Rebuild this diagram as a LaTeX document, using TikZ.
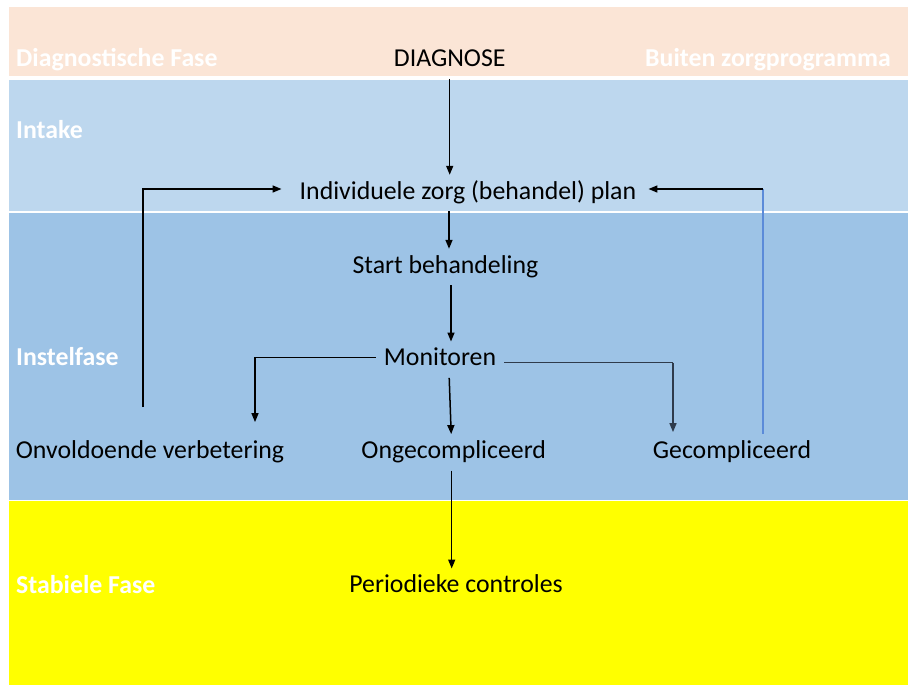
\documentclass[tikz,border=0pt]{standalone}
\usepackage{fontspec}
\setmainfont{Carlito}
\usetikzlibrary{arrows.meta}
\definecolor{peach}{HTML}{FBE5D6}
\definecolor{intakeblue}{HTML}{BDD7EE}
\definecolor{instelblue}{HTML}{9DC3E6}
\definecolor{stabyellow}{HTML}{FFFF00}
\definecolor{linkblue}{HTML}{5B8BD9}
\definecolor{darkline}{HTML}{2F3B4C}
\tikzset{
  stepnode/.style={inner xsep=8pt, inner ysep=6pt, text height=18pt, text depth=6pt,
    font=\fontsize{25.8}{30}\selectfont, text=black, anchor=base},
  phase/.style={inner sep=0pt, font=\fontsize{25.8}{30}\selectfont\bfseries, text=white},
  arr/.style={draw=black, line width=1.5pt, -{Triangle[length=9pt,width=7pt]}},
  plain/.style={draw=black, line width=1.5pt},
}
\begin{document}
\begin{tikzpicture}[x=1pt, y=-1pt]
  \useasboundingbox (0,0) rectangle (908,686);
  \fill[white] (0,0) rectangle (908,686);
  % phase bands
  \fill[peach]       (9,7)   rectangle (908,76);
  \fill[intakeblue]  (9,80)  rectangle (908,211);
  \fill[instelblue]  (9,213) rectangle (908,500);
  \fill[stabyellow]  (9,501) rectangle (908,685);

  % phase labels
  \node[phase, anchor=base west] (lDiag)  at (16,66.7)  {Diagnostische Fase};
  \node[phase, anchor=base east] (lBuiten) at (891,66.7) {Buiten zorgprogramma};
  \node[phase, anchor=base west] (lIntake) at (16,138)  {Intake};
  \node[phase, anchor=base west] (lInstel) at (16,365)  {Instelfase};
  \node[phase, anchor=base west] (lStab)   at (16,593)  {Stabiele Fase};

  % steps
  \node[stepnode] (diag)  at (449.7,66.7) {DIAGNOSE};
  \node[stepnode] (plan)  at (468,199)    {Individuele zorg (behandel) plan};
  \node[stepnode] (start) at (445.5,273)  {Start behandeling};
  \node[stepnode] (mon)   at (440,365.7)  {Monitoren};
  \node[stepnode] (onv)   at (150,458.3)  {Onvoldoende verbetering};
  \node[stepnode] (ong)   at (453.7,458.3) {Ongecompliceerd};
  \node[stepnode] (gec)   at (732,458.3)  {Gecompliceerd};
  \node[stepnode] (per)   at (456,592.7)  {Periodieke controles};

  % attachment points beside the texts
  \coordinate (monR)  at ([yshift=-3pt]mon.east);
  \coordinate (gecIn) at ([xshift=-59pt,yshift=2pt]gec.north);
  \coordinate (gecUp) at ([xshift=31pt]gec.north);
  \coordinate (planR) at ([xshift=4pt,yshift=4pt]plan.east);
  \coordinate (planL) at ([xshift=-10pt,yshift=4pt]plan.west);
  \coordinate (onvUp) at ([xshift=-7pt,yshift=27pt]onv.north);

  % main flow
  \draw[arr] (diag.south) -- (diag.south |- plan.north);
  \draw[arr] ([xshift=-19pt]plan.south) -- ([xshift=-19pt]plan.south |- start.north);
  \draw[arr] ([xshift=5.5pt]start.south) -- ([xshift=5.5pt]start.south |- mon.north);

  % outcomes of monitoring
  \draw[arr] ([yshift=2pt]mon.west) -| ([xshift=105pt,yshift=12pt]onv.north);
  \draw[arr] ([xshift=-4.5pt]ong.north |- mon.south) -- ([xshift=-2.5pt]ong.north);
  \draw[plain, draw=darkline] (monR) -- (gecIn |- monR);
  \draw[arr, draw=darkline] (gecIn |- monR) -- (gecIn);
  \draw[arr] ([xshift=-2pt]ong.south) -- ([xshift=-2pt]ong.south |- per.north);

  % feedback loops to the care plan
  \draw[arr] (onvUp) |- (planL);
  \draw[draw=linkblue, line width=1.5pt] (gecUp) -- (gecUp |- planR);
  \draw[arr] (gecUp |- planR) -- (planR);
\end{tikzpicture}
\end{document}
